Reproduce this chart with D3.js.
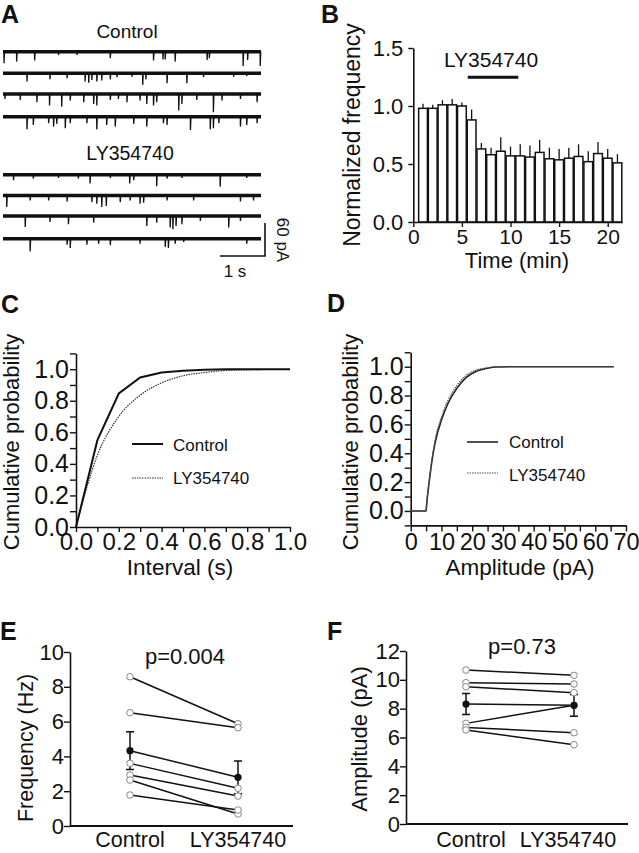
<!DOCTYPE html>
<html>
<head>
<meta charset="utf-8">
<style>
    body { margin: 0; background: #fff; }
    svg text { font-family: "Liberation Sans", Arial, sans-serif; fill: #111; }
</style>
</head>
<body>
<script src="https://d3js.org/d3.v7.min.js"></script>
<div id="main"></div>

<script>
    // ---------------- data ----------------
    // A: synaptic events read off each sweep, [time (s), amplitude (pA)]
    var controlTraces = [
        [[0.02, 21], [0.30, 18], [0.70, 16], [1.23, 6], [1.64, 6], [2.38, 12], [3.34, 16], [3.55, 14], [3.60, 14],
         [3.82, 18], [4.53, 15], [4.58, 12], [5.33, 26], [5.43, 15], [5.71, 26]],
        [[0.53, 15], [1.04, 11], [1.42, 9], [1.82, 15], [1.90, 17], [1.97, 12], [2.08, 15], [2.19, 13], [2.38, 11],
         [2.53, 7], [2.86, 6], [3.10, 21], [3.17, 11], [3.64, 18], [4.08, 18], [4.45, 7], [5.12, 6], [5.41, 5]],
        [[0.04, 9], [0.38, 11], [0.75, 15], [1.03, 21], [1.30, 23], [1.49, 12], [1.79, 15], [2.01, 18], [2.08, 21],
         [2.38, 11], [2.56, 9], [2.75, 15], [3.04, 12], [3.19, 18], [3.34, 21], [3.41, 15], [3.90, 30], [3.97, 18],
         [4.30, 11], [4.67, 33], [4.86, 12], [5.27, 9], [5.64, 15]],
        [[0.53, 23], [0.67, 15], [1.01, 12], [1.12, 18], [1.19, 13], [1.38, 21], [1.49, 12], [1.86, 12], [2.08, 23],
         [2.30, 15], [2.49, 18], [2.90, 13], [3.19, 18], [3.56, 12], [3.64, 15], [4.16, 24], [4.60, 23], [4.67, 21],
         [4.79, 12], [5.27, 18], [5.41, 15], [5.64, 12]]
    ];
    var lyTraces = [
        [[0.23, 10], [0.67, 7], [1.23, 6], [1.67, 7], [1.93, 16], [2.38, 6], [2.81, 16], [2.90, 10], [3.41, 21],
         [3.64, 7], [3.97, 6], [4.82, 22], [5.41, 6]],
        [[0.08, 21], [0.60, 9], [1.01, 9], [1.42, 11], [1.97, 12], [2.08, 15], [2.19, 21], [2.29, 19], [2.60, 12],
         [2.82, 9], [3.04, 15], [3.12, 13], [3.64, 9], [4.23, 9], [5.27, 11], [5.56, 9]],
        [[0.49, 20], [1.04, 11], [1.45, 15], [2.01, 12], [3.19, 18], [3.41, 12], [3.71, 21], [3.77, 24], [3.84, 18],
         [3.97, 15], [4.38, 9], [5.01, 21], [5.27, 9]],
        [[0.60, 23], [1.42, 11], [1.49, 17], [1.86, 11], [2.12, 9], [2.38, 12], [3.04, 9], [3.60, 15], [3.67, 17],
         [3.82, 9], [4.01, 6], [5.41, 9]]
    ];

    // B: normalized mEPSC frequency per minute
    var timeMin = [1, 2, 3, 4, 5, 6, 7, 8, 9, 10, 11, 12, 13, 14, 15, 16, 17, 18, 19, 20, 21];
    var normFreq = [0.98, 0.98, 1.01, 1.01, 1.00, 0.88, 0.63, 0.58, 0.61, 0.57, 0.57, 0.56, 0.60, 0.545, 0.536,
                    0.55, 0.565, 0.52, 0.59, 0.55, 0.51];
    var normFreqErr = [0.04, 0.03, 0.04, 0.05, 0.03, 0.09, 0.05, 0.06, 0.12, 0.08, 0.10, 0.10, 0.11, 0.095, 0.094,
                       0.09, 0.105, 0.09, 0.10, 0.08, 0.075];
    var drugWindow = [5.6, 10.8];

    // C: cumulative inter-event interval
    var intervalCtrlX = [0, 0.1, 0.2, 0.3, 0.4, 0.5, 0.6, 0.7, 0.8, 0.9, 1.0];
    var intervalCtrl = [0, 0.55, 0.846, 0.947, 0.979, 0.99, 0.996, 0.999, 1.0, 1.0, 1.0];
    var intervalLyX = [0, 0.1, 0.2, 0.3, 0.4, 0.5, 0.6, 0.7, 0.8, 0.88];
    var intervalLy = [0, 0.455, 0.70, 0.835, 0.913, 0.958, 0.979, 0.992, 0.996, 0.998];

    // D: cumulative amplitude
    var amplitudeX = [0, 5, 5.2, 6, 7, 8, 10, 12, 15, 18, 21, 25, 28, 35, 66];
    var amplitudeCtrl = [0, 0, 0.05, 0.2, 0.36, 0.48, 0.63, 0.74, 0.85, 0.925, 0.965, 0.99, 0.998, 1, 1];
    var amplitudeLy = [0, 0, 0.05, 0.21, 0.37, 0.5, 0.65, 0.76, 0.87, 0.94, 0.975, 0.993, 0.999, 1, 1];

    // E / F: paired cells
    var groups = ["Control", "LY354740"];
    var freqControl = [8.58, 6.51, 3.60, 2.93, 2.64, 1.78];
    var freqLY = [5.88, 5.65, 2.17, 1.72, 0.69, 0.92];
    var freqMean = [4.33, 2.80];
    var freqSem = [1.08, 0.94];
    var ampControl = [10.68, 9.80, 9.52, 6.98, 6.70, 6.52];
    var ampLY = [10.31, 9.71, 9.11, 8.23, 6.33, 5.50];
    var ampMean = [8.32, 8.23];
    var ampSem = [0.73, 0.76];

    // ---------------- drawing ----------------
    var svg = d3.select("#main")
        .append("svg")
        .attr("width", 639)
        .attr("height", 853);

    var FONT = '"Liberation Sans", Arial, sans-serif';

    function label(x, y, txt, size, anchor, weight) {
        return svg.append("text")
            .attr("x", x).attr("y", y)
            .attr("font-size", size)
            .attr("text-anchor", anchor || "middle")
            .attr("font-weight", weight || "normal")
            .text(txt);
    }

    function vlabel(x, y, txt, size) {
        svg.append("text")
            .attr("transform", "translate(" + x + "," + y + ") rotate(-90)")
            .attr("text-anchor", "middle")
            .attr("font-size", size)
            .text(txt);
    }

    function styleAxis(g, size) {
        g.attr("font-family", FONT).attr("font-size", size);
        g.select(".domain").attr("stroke-width", 1.6).attr("stroke", "#111");
        g.selectAll(".tick line").attr("stroke-width", 1.4).attr("stroke", "#111");
        g.selectAll(".tick text").attr("fill", "#111");
    }

    // panel letters
    label(1, 23, "A", 25, "start", "bold");
    label(321, 23, "B", 25, "start", "bold");
    label(1, 313, "C", 25, "start", "bold");
    label(327, 312, "D", 25, "start", "bold");
    label(0, 640, "E", 25, "start", "bold");
    label(327, 640, "F", 25, "start", "bold");

    // ---- A: traces ----
    var tScale = d3.scaleLinear().domain([0, 5.73]).range([3, 261]);
    var aScale = d3.scaleLinear().domain([0, 60]).range([0, 33]);

    function tracePoints(events) {
        var pts = [[0, 0]];
        events.forEach(function (e) {
            pts.push([e[0], 0], [e[0] + 0.003, e[1]], [e[0] + 0.014, 0]);
        });
        pts.push([5.73, 0]);
        return pts;
    }

    function drawTrace(events, base) {
        var line = d3.line()
            .x(function (d) { return tScale(d[0]); })
            .y(function (d) { return base + aScale(d[1]); });
        svg.append("line")
            .attr("x1", tScale(0)).attr("x2", tScale(5.73))
            .attr("y1", base).attr("y2", base)
            .attr("stroke", "#111").attr("stroke-width", 3.5);
        svg.append("path")
            .attr("d", line(tracePoints(events)))
            .attr("fill", "none").attr("stroke", "#111").attr("stroke-width", 1.3);
    }

    var controlBase = [51.7, 73.3, 94, 116.7];
    var lyBase = [174.7, 195.5, 216, 238.7];
    controlTraces.forEach(function (ev, i) { drawTrace(ev, controlBase[i]); });
    lyTraces.forEach(function (ev, i) { drawTrace(ev, lyBase[i]); });

    label(127, 38, "Control", 19);
    label(130, 160, "LY354740", 19.5);

    // scale bar: 1 s, 60 pA
    var sbX = tScale(5.73) + 4, sbY = 256;
    svg.append("path")
        .attr("d", "M" + (sbX - (tScale(1) - tScale(0))) + "," + sbY + "H" + sbX + "V" + (sbY - aScale(60)))
        .attr("fill", "none").attr("stroke", "#111").attr("stroke-width", 1.6);
    label(235, 277, "1 s", 17);
    svg.append("text")
        .attr("transform", "translate(277,240) rotate(90)")
        .attr("text-anchor", "middle").attr("font-size", 17)
        .text("60 pA");

    // ---- B: bar chart ----
    var xB = d3.scaleLinear().domain([0, 21.5]).range([413.3, 622.3]);
    var yB = d3.scaleLinear().domain([0, 1.5]).range([222, 48]);
    var barW = xB(0.9) - xB(0);

    svg.append("g").selectAll("line")
        .data(timeMin).enter().append("line")
        .attr("x1", function (d) { return xB(d); })
        .attr("x2", function (d) { return xB(d); })
        .attr("y1", function (d, i) { return yB(normFreq[i]); })
        .attr("y2", function (d, i) { return yB(normFreq[i] + normFreqErr[i]); })
        .attr("stroke", "#111").attr("stroke-width", 1.3);

    svg.append("g").selectAll("rect")
        .data(timeMin).enter().append("rect")
        .attr("x", function (d) { return xB(d) - barW / 2; })
        .attr("y", function (d, i) { return yB(normFreq[i]); })
        .attr("width", barW)
        .attr("height", function (d, i) { return yB(0) - yB(normFreq[i]); })
        .attr("fill", "#fff").attr("stroke", "#111").attr("stroke-width", 1.5);

    var gBx = svg.append("g").attr("transform", "translate(0," + yB(0) + ")")
        .call(d3.axisBottom(xB).tickValues([0, 5, 10, 15, 20]).tickSize(5).tickSizeOuter(0).tickPadding(2));
    styleAxis(gBx, 21);
    var gBy = svg.append("g").attr("transform", "translate(" + xB(0) + ",0)")
        .call(d3.axisLeft(yB).tickValues([0, 0.5, 1.0, 1.5]).tickFormat(d3.format(".1f"))
            .tickSize(5).tickSizeOuter(0).tickPadding(5));
    styleAxis(gBy, 22);

    svg.append("line")
        .attr("x1", xB(drugWindow[0])).attr("x2", xB(drugWindow[1]))
        .attr("y1", 77.3).attr("y2", 77.3)
        .attr("stroke", "#111").attr("stroke-width", 3);
    label(491, 67, "LY354740", 21);
    label(517, 268, "Time (min)", 22);
    vlabel(360, 135, "Normalized frequency", 23);

    // ---- C: interval cumulative ----
    var xC = d3.scaleLinear().domain([0, 1]).range([76, 290]);
    var yC = d3.scaleLinear().domain([0, 1.1]).range([527, 353.4]);
    var tenths = d3.range(0, 11).map(function (i) { return i / 10; });
    var evenFmt = function (d) { return Math.round(d * 10) % 2 === 0 ? d3.format(".1f")(d) : ""; };

    var gCx = svg.append("g").attr("transform", "translate(0," + yC(0) + ")")
        .call(d3.axisBottom(xC).tickValues(tenths).tickFormat(evenFmt).tickSize(5).tickSizeOuter(0).tickPadding(1));
    styleAxis(gCx, 24);
    var gCy = svg.append("g").attr("transform", "translate(" + xC(0) + ",0)")
        .call(d3.axisLeft(yC).tickValues(tenths.concat([1.1]))
            .tickFormat(function (d) { return d > 1.05 ? "" : evenFmt(d); })
            .tickSize(6).tickSizeOuter(0).tickPadding(1));
    styleAxis(gCy, 25);

    var lineC = d3.line()
        .x(function (d) { return xC(d[0]); })
        .y(function (d) { return yC(d[1]); });
    svg.append("path")
        .attr("d", lineC.curve(d3.curveMonotoneX)(d3.zip(intervalLyX, intervalLy)))
        .attr("fill", "none").attr("stroke", "#333").attr("stroke-width", 1.2)
        .attr("stroke-dasharray", "1.5,1");
    svg.append("path")
        .attr("d", lineC.curve(d3.curveLinear)(d3.zip(intervalCtrlX, intervalCtrl)))
        .attr("fill", "none").attr("stroke", "#111").attr("stroke-width", 2);

    // legend C
    svg.append("line").attr("x1", 132).attr("x2", 163).attr("y1", 444).attr("y2", 444)
        .attr("stroke", "#111").attr("stroke-width", 2);
    svg.append("line").attr("x1", 132).attr("x2", 163).attr("y1", 478).attr("y2", 478)
        .attr("stroke", "#333").attr("stroke-width", 1.2).attr("stroke-dasharray", "1.5,1");
    label(173, 451, "Control", 17, "start");
    label(173, 484, "LY354740", 17, "start");

    label(180, 575, "Interval (s)", 22.5);
    vlabel(19, 442, "Cumulative probability", 22);

    // ---- D: amplitude cumulative ----
    var xD = d3.scaleLinear().domain([0, 70]).range([410.7, 626]);
    var yD = d3.scaleLinear().domain([-0.1, 1.1]).range([525.4, 352.3]);
    var fives = d3.range(0, 15).map(function (i) { return i * 5; });

    var gDx = svg.append("g").attr("transform", "translate(0," + yD(-0.1) + ")")
        .call(d3.axisBottom(xD).tickValues(fives)
            .tickFormat(function (d) { return d % 10 === 0 ? d : ""; })
            .tickSize(6).tickSizeOuter(0).tickPadding(2));
    styleAxis(gDx, 23.5);
    var gDy = svg.append("g").attr("transform", "translate(" + xD(0) + ",0)")
        .call(d3.axisLeft(yD).tickValues([-0.1].concat(tenths, [1.1]))
            .tickFormat(function (d) { return (d < -0.05 || d > 1.05) ? "" : evenFmt(d); })
            .tickSize(6).tickSizeOuter(0).tickPadding(1));
    styleAxis(gDy, 25);

    var lineD = d3.line()
        .x(function (d) { return xD(d[0]); })
        .y(function (d) { return yD(d[1]); })
        .curve(d3.curveMonotoneX);
    svg.append("path")
        .attr("d", lineD(d3.zip(amplitudeX, amplitudeCtrl)))
        .attr("fill", "none").attr("stroke", "#222").attr("stroke-width", 1.6);
    svg.append("path")
        .attr("d", lineD(d3.zip(amplitudeX, amplitudeLy)))
        .attr("fill", "none").attr("stroke", "#555").attr("stroke-width", 1.2)
        .attr("stroke-dasharray", "1.5,1");

    // legend D
    svg.append("line").attr("x1", 467).attr("x2", 498).attr("y1", 442).attr("y2", 442)
        .attr("stroke", "#222").attr("stroke-width", 1.6);
    svg.append("line").attr("x1", 467).attr("x2", 498).attr("y1", 473).attr("y2", 473)
        .attr("stroke", "#555").attr("stroke-width", 1.2).attr("stroke-dasharray", "1.5,1");
    label(509, 448, "Control", 17, "start");
    label(509, 481, "LY354740", 17, "start");

    label(520, 575, "Amplitude (pA)", 22.5);
    vlabel(358, 442, "Cumulative probability", 22);

    // ---- E / F: paired plots ----
    function pairedPanel(cfg) {
        var x = d3.scalePoint().domain(groups).range(cfg.xRange);
        var y = d3.scaleLinear().domain([0, cfg.yMax]).range(cfg.yRange);

        // axes
        svg.append("line")
            .attr("x1", cfg.axisX).attr("x2", cfg.axisEnd)
            .attr("y1", y(0)).attr("y2", y(0))
            .attr("stroke", "#111").attr("stroke-width", 2);
        var gy = svg.append("g").attr("transform", "translate(" + cfg.axisX + ",0)")
            .call(d3.axisLeft(y).tickValues(cfg.ticks).tickSize(6).tickSizeOuter(0).tickPadding(0));
        styleAxis(gy, 22);

        // connecting lines
        var g = svg.append("g");
        cfg.control.forEach(function (v, i) {
            g.append("line")
                .attr("x1", x(groups[0])).attr("y1", y(v))
                .attr("x2", x(groups[1])).attr("y2", y(cfg.drug[i]))
                .attr("stroke", "#111").attr("stroke-width", 1.5);
        });
        g.append("line")
            .attr("x1", x(groups[0])).attr("y1", y(cfg.mean[0]))
            .attr("x2", x(groups[1])).attr("y2", y(cfg.mean[1]))
            .attr("stroke", "#111").attr("stroke-width", 1.5);

        // error bars
        groups.forEach(function (grp, i) {
            var lo = y(cfg.mean[i] - cfg.sem[i]), hi = y(cfg.mean[i] + cfg.sem[i]), cx = x(grp);
            g.append("path")
                .attr("d", "M" + cx + "," + lo + "V" + hi + "M" + (cx - 4) + "," + hi + "H" + (cx + 4) +
                    "M" + (cx - 4) + "," + lo + "H" + (cx + 4))
                .attr("fill", "none").attr("stroke", "#111").attr("stroke-width", 1.5);
        });

        // open circles
        [cfg.control, cfg.drug].forEach(function (vals, k) {
            g.selectAll(null).data(vals).enter().append("circle")
                .attr("cx", x(groups[k]))
                .attr("cy", function (d) { return y(d); })
                .attr("r", 3.3)
                .attr("fill", "#fff").attr("stroke", "#888").attr("stroke-width", 1);
        });
        // mean
        g.selectAll(null).data(cfg.mean).enter().append("circle")
            .attr("cx", function (d, i) { return x(groups[i]); })
            .attr("cy", function (d) { return y(d); })
            .attr("r", 3.6).attr("fill", "#111");

        groups.forEach(function (grp, i) {
            label(cfg.labelX[i], 847, grp, 21.5);
        });
    }

    pairedPanel({
        xRange: [130, 238], yRange: [826, 652], yMax: 10, ticks: [0, 2, 4, 6, 8, 10],
        axisX: 70, axisEnd: 293, labelX: [130, 238],
        control: freqControl, drug: freqLY, mean: freqMean, sem: freqSem
    });
    label(185, 664, "p=0.004", 22);
    vlabel(33, 748, "Frequency (Hz)", 21.5);

    pairedPanel({
        xRange: [466, 574], yRange: [824, 651], yMax: 12, ticks: [0, 2, 4, 6, 8, 10, 12],
        axisX: 406, axisEnd: 628, labelX: [471, 568],
        control: ampControl, drug: ampLY, mean: ampMean, sem: ampSem
    });
    label(522, 654, "p=0.73", 22);
    vlabel(367, 739, "Amplitude (pA)", 22);
</script>
</body>
</html>
